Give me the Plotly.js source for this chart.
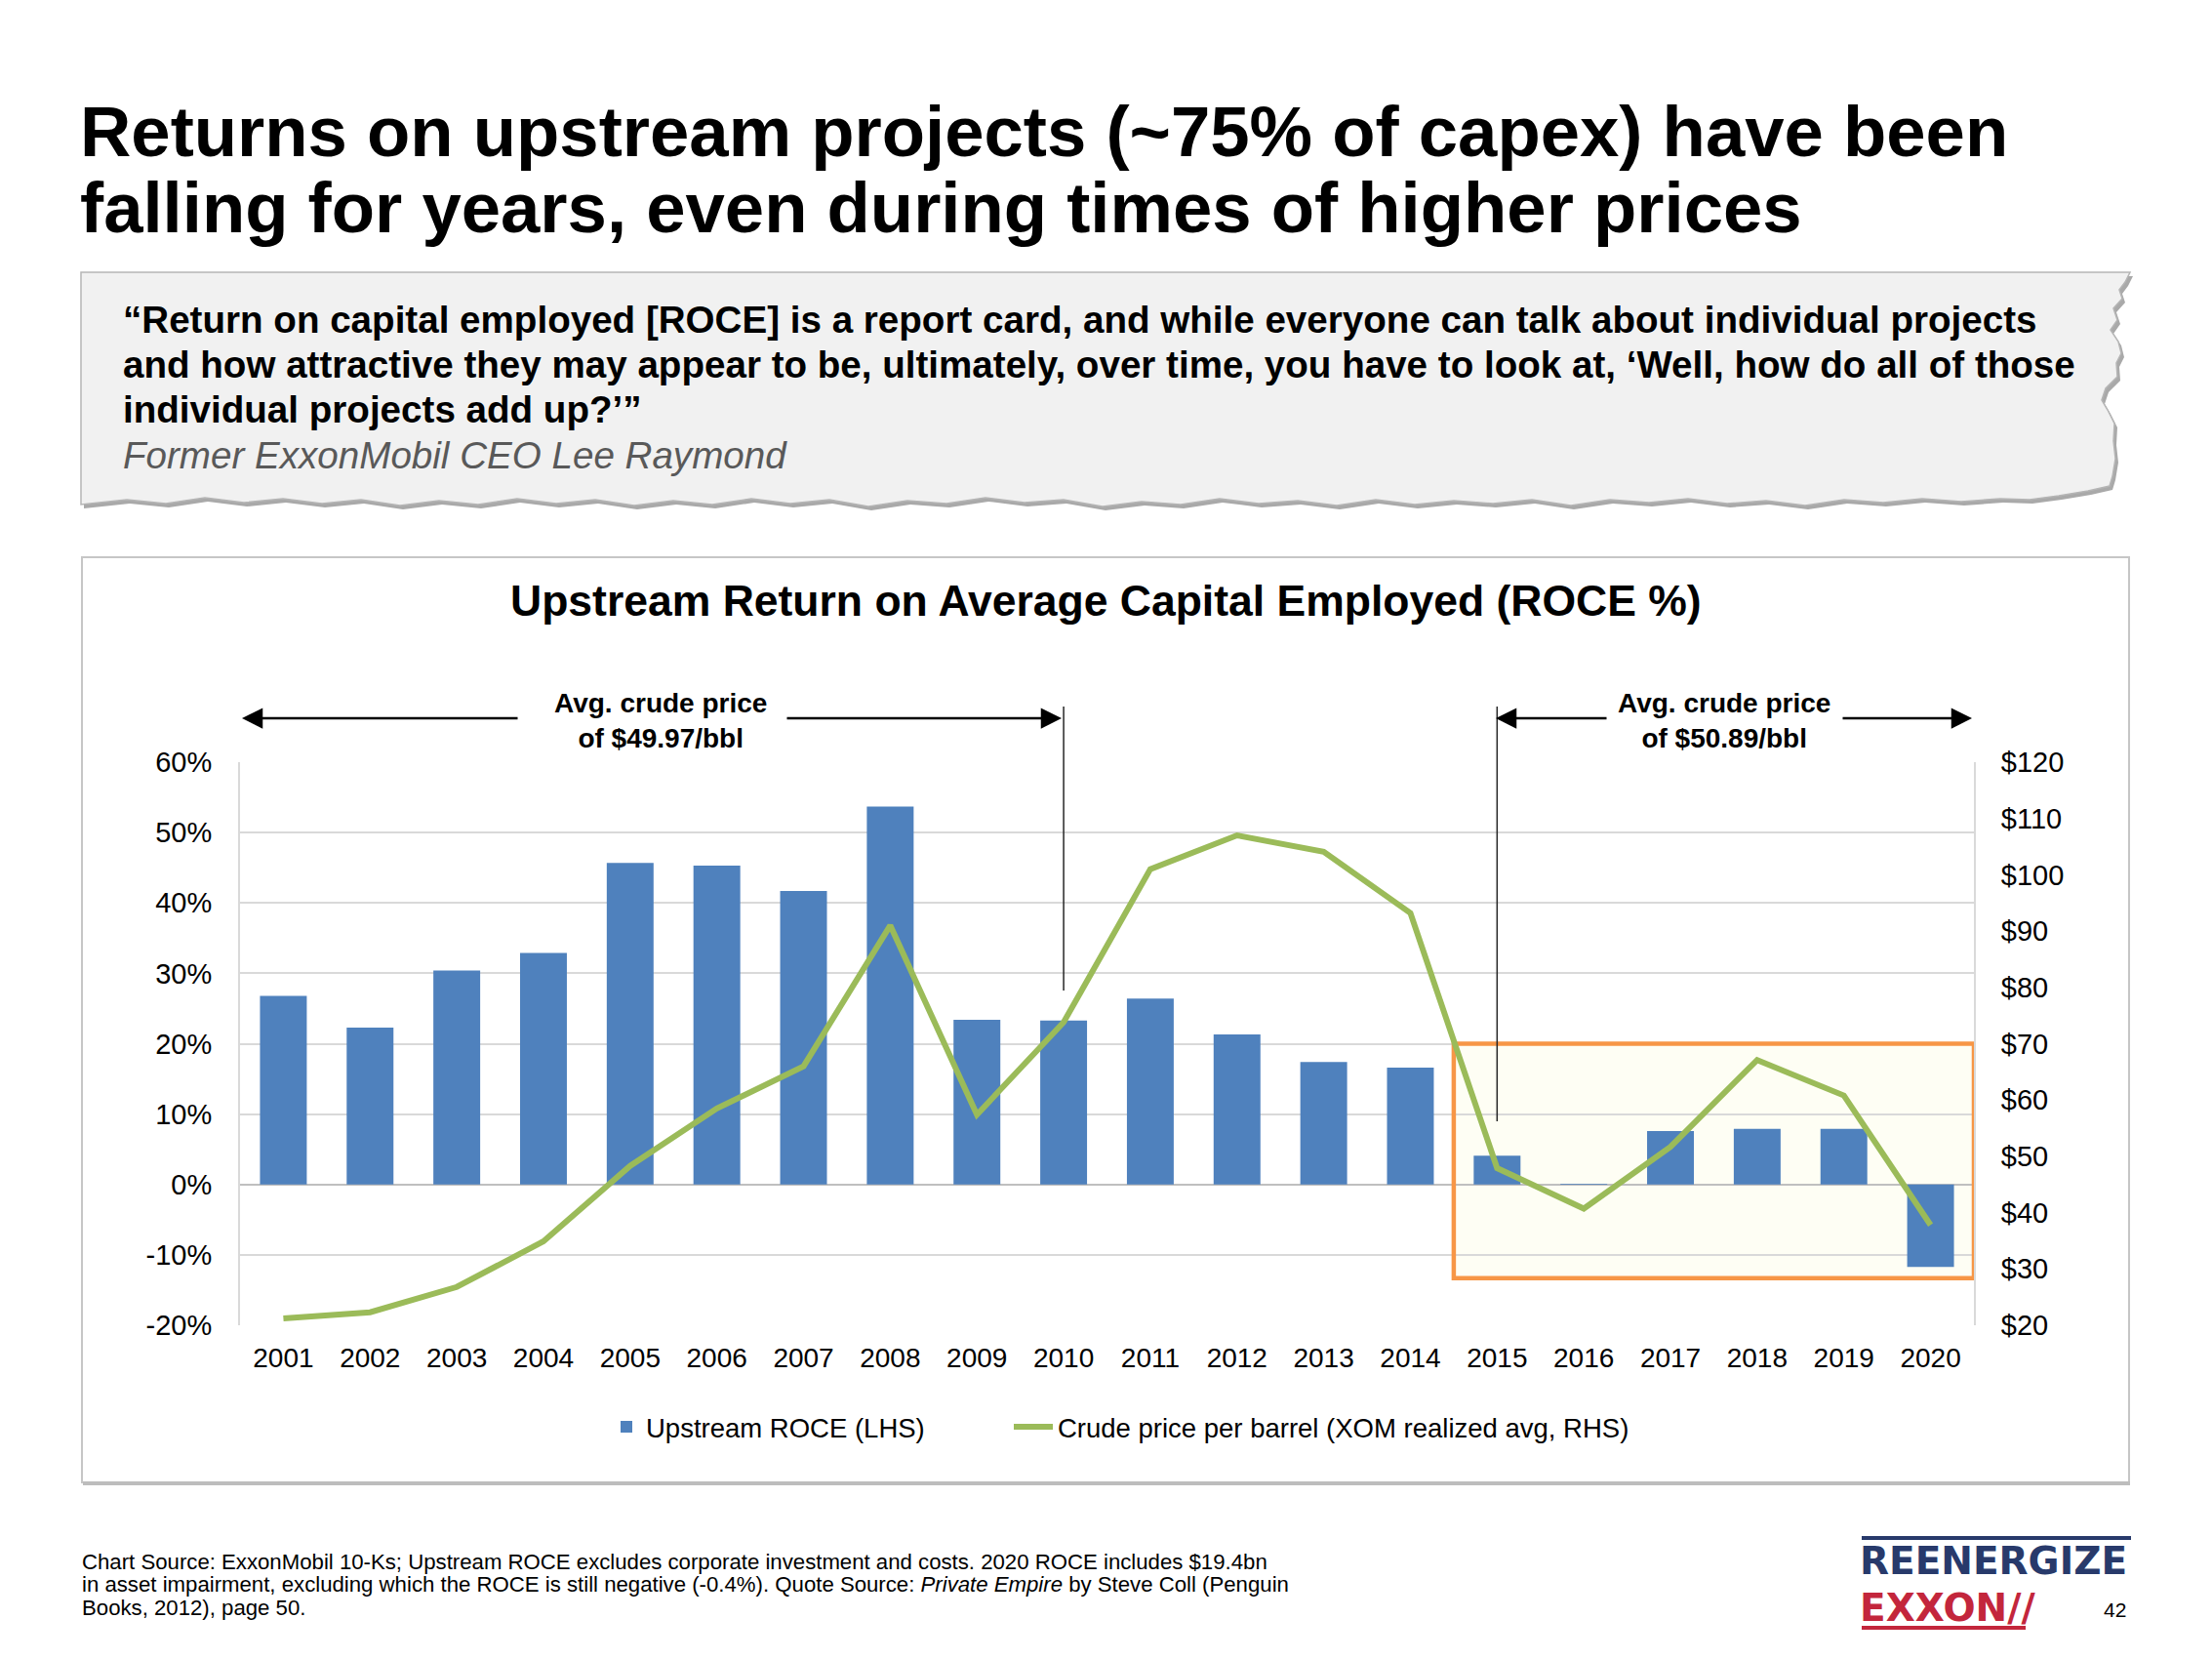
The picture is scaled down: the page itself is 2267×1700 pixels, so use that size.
<!DOCTYPE html>
<html>
<head>
<meta charset="utf-8">
<script src="https://cdn.plot.ly/plotly-3.0.1.min.js"></script>
<style>
  html, body { margin: 0; padding: 0; background: #ffffff; }
  #chart { width: 2267px; height: 1700px; }
</style>
</head>
<body>
<div id="chart"></div>
<script>
// ---------------- DATA ----------------
const years = ['2001','2002','2003','2004','2005','2006','2007','2008','2009','2010',
               '2011','2012','2013','2014','2015','2016','2017','2018','2019','2020'];
// Upstream ROCE (%), left axis
const roce = [26.8, 22.3, 30.4, 32.9, 45.7, 45.3, 41.7, 53.7, 23.4, 23.3,
              26.4, 21.3, 17.4, 16.6, 4.1, 0.1, 7.6, 7.9, 7.9, -11.7];
// Crude price per barrel (XOM realized avg, $), right axis
const crude = [21.2, 22.3, 26.8, 34.9, 48.3, 58.5, 66.0, 91.0, 57.4, 73.8,
               101.0, 107.0, 104.1, 93.2, 47.9, 40.7, 51.7, 67.1, 60.8, 37.8];

const leftTickVals = [-20, -10, 0, 10, 20, 30, 40, 50, 60];
const leftTickText = ['-20%', '-10%', '0%', '10%', '20%', '30%', '40%', '50%', '60%'];
const rightTickVals = [20, 30, 40, 50, 60, 70, 80, 90, 100, 110, 120];
const rightTickText = ['$20', '$30', '$40', '$50', '$60', '$70', '$80', '$90', '$100', '$110', '$120'];

const seriesNames = ['Upstream ROCE (LHS)', 'Crude price per barrel (XOM realized avg, RHS)'];

// Highlighted period box (2015-2020) in axis units
const boxFirstYear = '2015', boxLastYear = '2020';
const boxTopPct = 20, boxBottomPct = -13.3;
// Period markers
const markerYears = ['2010', '2015'];
const periodLabels = ['Avg. crude price<br>of $49.97/bbl', 'Avg. crude price<br>of $50.89/bbl'];

const titleLines = ['Returns on upstream projects (~75% of capex) have been',
                    'falling for years, even during times of higher prices'];
const quoteLines = ['\u201CReturn on capital employed [ROCE] is a report card, and while everyone can talk about individual projects',
                    'and how attractive they may appear to be, ultimately, over time, you have to look at, \u2018Well, how do all of those',
                    'individual projects add up?\u2019\u201D'];
const quoteAuthor = 'Former ExxonMobil CEO Lee Raymond';
const chartTitle = 'Upstream Return on Average Capital Employed (ROCE %)';
const footerLines = ['Chart Source: ExxonMobil 10-Ks; Upstream ROCE excludes corporate investment and costs. 2020 ROCE includes $19.4bn',
                     'in asset impairment, excluding which the ROCE is still negative (-0.4%). Quote Source: <i>Private Empire</i> by Steve Coll (Penguin',
                     'Books, 2012), page 50.'];

// ---------------- LAYOUT HELPERS ----------------
const W = 2267, H = 1700;
const px = x => x / W;
const py = y => 1 - y / H;
const FONT = 'Liberation Sans, Arial, Helvetica, sans-serif';
const LOGOFONT = 'DejaVu Sans, Verdana, sans-serif';

const plotL = 246, plotR = 2023, plotT = 781, plotB = 1358;

// torn-paper quote box outline (decorative, pixel coordinates)
const tornPts = [
  [83,279],[2183,279],[2178,289],[2172,297],[2175,306],[2166,316],[2170,328],[2163,338],
  [2171,350],[2174,362],[2169,372],[2170,386],[2158,398],[2154,410],[2160,420],[2167,434],
  [2166,452],[2168,470],[2165,488],[2162,498],[2140,503],[2110,508],[2080,512],[2050,511],
  [2010,514],[1970,511],[1930,515],[1890,512],[1850,518],[1810,513],[1770,516],[1730,511],
  [1690,515],[1650,512],[1610,518],[1570,512],[1530,516],[1490,513],[1450,517],[1410,512],
  [1370,518],[1330,513],[1290,516],[1250,511],[1210,517],[1170,514],[1130,519],[1090,512],
  [1050,515],[1010,510],[970,516],[930,513],[890,519],[850,512],[810,516],[770,511],
  [730,517],[690,513],[650,518],[610,512],[570,516],[530,511],[490,517],[450,513],
  [410,518],[370,512],[330,516],[290,511],[250,515],[210,510],[170,516],[130,512],[83,517]
];
function pathFrom(pts, dx, dy) {
  return pts.map((p, i) => (i === 0 ? 'M' : 'L') + px(p[0] + dx).toFixed(5) + ',' + py(p[1] + dy).toFixed(5)).join(' ') + ' Z';
}

// ---------------- TRACES ----------------
const traces = [
  {
    type: 'bar', x: years, y: roce, name: seriesNames[0],
    marker: { color: '#4F81BD' }, yaxis: 'y', hoverinfo: 'x+y', legend: 'legend'
  },
  {
    type: 'scatter', mode: 'lines', x: years, y: crude, name: seriesNames[1],
    line: { color: '#9BBB59', width: 6 }, yaxis: 'y2', legend: 'legend2'
  }
];

const iBox0 = years.indexOf(boxFirstYear) - 0.5;
const iBox1 = years.indexOf(boxLastYear) + 0.5;
const iM0 = years.indexOf(markerYears[0]);
const iM1 = years.indexOf(markerYears[1]);

// ---------------- SHAPES ----------------
const shapes = [
  // quote box shadow and paper
  { type: 'path', xref: 'paper', yref: 'paper', path: pathFrom(tornPts, 3, 4),
    fillcolor: '#A9A9A9', line: { width: 0 }, layer: 'below' },
  { type: 'path', xref: 'paper', yref: 'paper', path: pathFrom(tornPts, 0, 0),
    fillcolor: '#F1F1F1', line: { color: '#B5B5B5', width: 1.5 }, layer: 'below' },
  // chart panel border
  { type: 'rect', xref: 'paper', yref: 'paper', x0: px(84), x1: px(2182), y0: py(571), y1: py(1519),
    line: { color: '#C6C6C6', width: 2 }, fillcolor: 'rgba(0,0,0,0)', layer: 'below' },
  { type: 'line', xref: 'paper', yref: 'paper', x0: px(85), x1: px(2183), y0: py(1520), y1: py(1520),
    line: { color: '#BDBDBD', width: 4 }, layer: 'below' },
  // highlighted period fill
  { type: 'rect', xref: 'x', yref: 'y', x0: iBox0, x1: iBox1,
    y0: boxBottomPct, y1: boxTopPct, fillcolor: '#FEFEF4', line: { width: 0 }, layer: 'below' },
  // highlighted period border
  { type: 'rect', xref: 'x', yref: 'y', x0: iBox0, x1: iBox1,
    y0: boxBottomPct, y1: boxTopPct, fillcolor: 'rgba(0,0,0,0)', line: { color: '#F79646', width: 4.5 }, layer: 'between' },
  // period marker verticals
  { type: 'line', xref: 'x', yref: 'paper', x0: iM0, x1: iM0, y0: py(724), y1: py(1015),
    line: { color: '#262626', width: 1.5 }, layer: 'above' },
  { type: 'line', xref: 'x', yref: 'paper', x0: iM1, x1: iM1, y0: py(724), y1: py(1149),
    line: { color: '#262626', width: 1.5 }, layer: 'above' },
  // logo rules
  { type: 'line', xref: 'paper', yref: 'paper', x0: px(1908), x1: px(2184), y0: py(1576), y1: py(1576),
    line: { color: '#283A6B', width: 4 } },
  { type: 'line', xref: 'paper', yref: 'paper', x0: px(1908), x1: px(2076), y0: py(1668), y1: py(1668),
    line: { color: '#C3263C', width: 4 } }
];

// ---------------- ANNOTATIONS ----------------
const ann = [];
function txt(text, x, y, size, opts) {
  ann.push(Object.assign({
    xref: 'paper', yref: 'paper', x: px(x), y: py(y), text: text, showarrow: false,
    xanchor: 'left', yanchor: 'middle', font: { family: FONT, size: size, color: '#000000' }
  }, opts || {}));
}
// main title
txt('<b>' + titleLines[0] + '</b>', 80, 134, 72.5);
txt('<b>' + titleLines[1] + '</b>', 80, 212, 72.5);
// quote
quoteLines.forEach((l, i) => txt('<b>' + l + '</b>', 124, 327 + i * 46, 38.6));
txt('<i>' + quoteAuthor + '</i>', 124, 466, 38.6, { font: { family: FONT, size: 38.6, color: '#595959' } });
// chart title
txt('<b>' + chartTitle + '</b>', 1133, 616, 44.5, { xanchor: 'center' });
// period labels
txt('<b>' + periodLabels[0] + '</b>', 677, 738, 28, { xanchor: 'center', align: 'center' });
txt('<b>' + periodLabels[1] + '</b>', 1767, 738, 28, { xanchor: 'center', align: 'center' });
// arrows
function arrow(tipX, tailX, y) {
  ann.push({ xref: 'paper', yref: 'paper', x: px(tipX), y: py(y), ax: tailX - tipX, ay: 0,
    axref: 'pixel', ayref: 'pixel', text: '', showarrow: true, arrowhead: 2, arrowsize: 1.7,
    arrowwidth: 2.5, arrowcolor: '#000000', standoff: 0, startstandoff: 0 });
}
arrow(248, 532, 736);
arrow(1088, 805, 736);
arrow(1533, 1648, 736);
arrow(2021, 1887, 736);
// footer
footerLines.forEach((l, i) => txt(l, 82, 1600 + i * 23.5, 22.2));
// logo and page number
txt('<b>REENERGIZE</b>', 1904, 1599, 39, { font: { family: LOGOFONT, size: 39, color: '#283A6B' } });
txt('<b>EXXON//</b>', 1904, 1647, 39, { font: { family: LOGOFONT, size: 39, color: '#C3263C' } });
txt('42', 2181, 1649, 21, { xanchor: 'right' });

// ---------------- LAYOUT ----------------
const legendFont = { family: FONT, size: 27.5, color: '#000000' };
const layout = {
  width: W, height: H,
  margin: { l: 0, r: 0, t: 0, b: 0, pad: 0 },
  paper_bgcolor: '#FFFFFF', plot_bgcolor: 'rgba(0,0,0,0)',
  font: { family: FONT, color: '#000000' },
  showlegend: true,
  bargap: 0.46,
  xaxis: {
    domain: [px(plotL), px(plotR)], anchor: 'y', type: 'category',
    range: [-0.5, years.length - 0.5], autorange: false, fixedrange: true,
    showgrid: false, showline: false, zeroline: false, ticks: '',
    tickfont: { family: FONT, size: 28, color: '#000000' }, ticklabelstandoff: 14
  },
  yaxis: {
    domain: [py(plotB), py(plotT)], anchor: 'x', range: [-20, 60], autorange: false,
    tickvals: leftTickVals, ticktext: leftTickText,
    showgrid: true, gridcolor: '#D9D9D9', gridwidth: 2,
    zeroline: true, zerolinecolor: '#BFBFBF', zerolinewidth: 2,
    showline: true, linecolor: '#D9D9D9', linewidth: 2, ticks: '',
    tickfont: { family: FONT, size: 29, color: '#000000' }, ticklabelstandoff: 21
  },
  yaxis2: {
    overlaying: 'y', side: 'right', anchor: 'x', range: [20, 120], autorange: false,
    tickvals: rightTickVals, ticktext: rightTickText,
    showgrid: false, zeroline: false,
    showline: true, linecolor: '#D9D9D9', linewidth: 2, ticks: '',
    tickfont: { family: FONT, size: 29, color: '#000000' }, ticklabelstandoff: 20
  },
  legend: {
    orientation: 'h', x: px(622), xanchor: 'left', y: py(1462), yanchor: 'middle',
    font: legendFont, itemwidth: 30, borderwidth: 0,
    bgcolor: 'rgba(0,0,0,0)', traceorder: 'normal'
  },
  legend2: {
    orientation: 'h', x: px(1034), xanchor: 'left', y: py(1462), yanchor: 'middle',
    font: legendFont, itemwidth: 40, borderwidth: 0,
    bgcolor: 'rgba(0,0,0,0)', traceorder: 'normal'
  },
  shapes: shapes,
  annotations: ann
};

Plotly.newPlot('chart', traces, layout, { displayModeBar: false, staticPlot: true });
</script>
</body>
</html>
